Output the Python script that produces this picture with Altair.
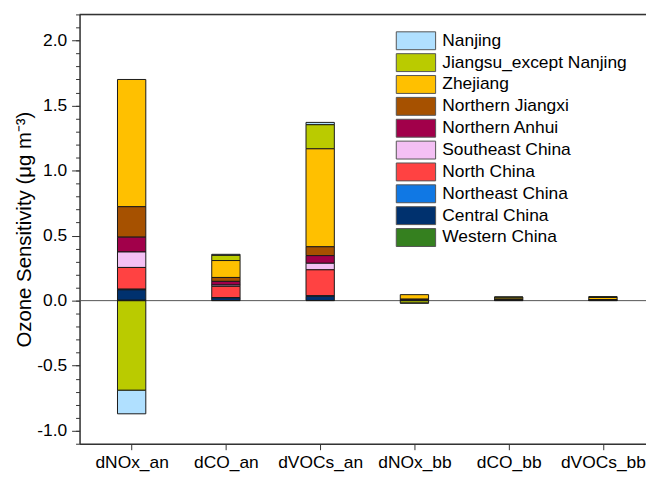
import json
import altair as alt
import pandas as pd

categories = ["dNOx_an", "dCO_an", "dVOCs_an", "dNOx_bb", "dCO_bb", "dVOCs_bb"]
regions = ["Nanjing", "Jiangsu_except Nanjing", "Zhejiang", "Northern Jiangxi",
           "Northern Anhui", "Southeast China", "North China", "Northeast China",
           "Central China", "Western China"]
colors = ["#B0E0FF", "#BACB00", "#FFC000", "#A65100", "#A1004A",
          "#F4C0F4", "#FF4242", "#1078E4", "#00316E", "#35801F"]

nanjing = [-0.182, 0.008, 0.018, -0.003, 0.001, 0.001]
jiangsu = [-0.688, 0.040, 0.185, -0.017, 0.008, 0.005]
zhejiang = [0.978, 0.130, 0.753, 0.035, 0.013, 0.018]
n_jiangxi = [0.234, 0.030, 0.068, 0.002, 0.002, 0.002]
n_anhui = [0.114, 0.028, 0.059, 0.001, 0.001, 0.001]
southeast = [0.119, 0.010, 0.050, 0.001, 0.000, 0.000]
north = [0.167, 0.087, 0.200, 0.004, 0.002, 0.002]
northeast = [0.005, 0.002, 0.003, 0.000, 0.000, 0.000]
central = [0.080, 0.020, 0.033, 0.003, 0.001, 0.001]
western = [0.003, 0.001, 0.001, 0.000, 0.000, 0.000]

series = [nanjing, jiangsu, zhejiang, n_jiangxi, n_anhui, southeast, north,
          northeast, central, western]

rows = []
for ri, (reg, vals) in enumerate(zip(regions, series)):
    for ci, (cat, v) in enumerate(zip(categories, vals)):
        if v != 0:
            rows.append({"cat": cat, "idx": ci, "region": reg, "value": v,
                         "order": len(regions) - 1 - ri})
df = pd.DataFrame(rows)

FONT = "Liberation Sans"
AX = "#333333"
y_scale = alt.Scale(domain=[-1.1, 2.2], nice=False, zero=False)
x_scale = alt.Scale(domain=[-0.5, 5.404], nice=False, zero=False)

major = [-1.0, -0.5, 0.0, 0.5, 1.0, 1.5, 2.0]
minor = [round(-1.1 + 0.1 * i, 1) for i in range(34)]

label_expr = json.dumps(categories) + "[datum.value]"

# minor ticks axis + zero line
zero_line = alt.Chart(pd.DataFrame({"y": [0.0]})).mark_rule(
    color="#555555", strokeWidth=1
).encode(
    y=alt.Y("y:Q", scale=y_scale,
            axis=alt.Axis(orient="left", values=minor, tickSize=4, labels=False,
                          domain=False, grid=False, title=None, tickColor=AX,
                          tickWidth=1))
)

top_line = alt.Chart(pd.DataFrame({"y": [2.2]})).mark_rule(
    color=AX, strokeWidth=1.5
).encode(y=alt.Y("y:Q", scale=y_scale, axis=None))

bars = alt.Chart(df).mark_bar(stroke="#1a1a1a", strokeWidth=1, size=28.5).encode(
    x=alt.X("idx:Q", scale=x_scale,
            axis=alt.Axis(values=list(range(len(categories))), labelExpr=label_expr,
                          tickSize=6, tickColor=AX, domainColor=AX, domainWidth=1.5,
                          labelFontSize=17.5, labelFont=FONT, labelColor="black",
                          labelPadding=4, grid=False, title=None)),
    y=alt.Y("value:Q", stack="zero", scale=y_scale,
            axis=alt.Axis(orient="left", values=major,
                          labelExpr="replace(format(datum.value, '.1f'), '\u2212', '-')",
                          tickSize=8,
                          tickColor=AX, domainColor=AX, domainWidth=1.5,
                          labelFontSize=17.5, labelFont=FONT, labelColor="black",
                          labelPadding=5, grid=False,
                          title="Ozone Sensitivity (μg m⁻³)", titleFontSize=20.5,
                          titleFont=FONT, titleFontWeight="normal",
                          titleColor="black", titlePadding=2)),
    color=alt.Color("region:N",
                    scale=alt.Scale(domain=regions, range=colors),
                    legend=alt.Legend(orient="none", legendX=329, legendY=17,
                                      title=None, labelFontSize=17.5, labelFont=FONT,
                                      labelColor="black",
                                      symbolType="M-2.2,-1L2.2,-1L2.2,1L-2.2,1Z",
                                      symbolSize=324, symbolStrokeColor="#555555",
                                      symbolStrokeWidth=1, symbolOpacity=1,
                                      labelOffset=17, rowPadding=-1, padding=0,
                                      labelLimit=300)),
    order=alt.Order("order:Q", sort="ascending"),
)

chart = alt.layer(zero_line, bars, top_line).resolve_axis(
    y="independent"
).resolve_scale(y="shared").properties(
    width=570, height=432,
    autosize=alt.AutoSizeParams(type="none"),
    padding={"left": 72, "top": 5, "right": 0, "bottom": 30},
).configure_view(stroke=None).configure(background="white")

chart.save("out.html", embed_options={"renderer": "svg", "actions": False})
